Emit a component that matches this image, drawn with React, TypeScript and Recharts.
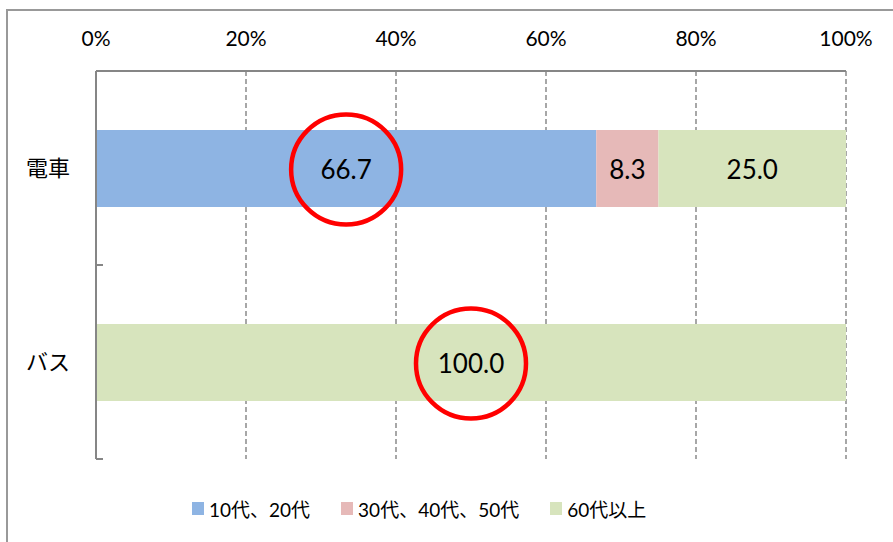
import React from 'react';
import { BarChart, Bar, XAxis, YAxis, CartesianGrid, Legend, LabelList, usePlotArea } from 'recharts';

const categories = ['電車', 'バス'];
const seriesNames = ['10代、20代', '30代、40代、50代', '60代以上'];
const youngValues = [66.7, 0];
const middleValues = [8.3, 0];
const seniorValues = [25.0, 100.0];
const youngCircled = [true, false];
const middleCircled = [false, false];
const seniorCircled = [false, true];
const xTicks = [0, 20, 40, 60, 80, 100];
const colors = ['#8EB4E3', '#E6B9B8', '#D7E4BD'];

const data = categories.map((c, i) => ({
  category: c,
  young: youngValues[i],
  middle: middleValues[i],
  senior: seniorValues[i],
}));

const FONT = "Lato, 'Noto Sans CJK JP', sans-serif";
const AXIS_COLOR = '#868686';

const makeLabel = (circled: boolean[]) => (props: any) => {
  const { x, y, width, height, value, index } = props;
  if (!value) return null;
  const cx = Number(x) + Number(width) / 2;
  const cy = Number(y) + Number(height) / 2;
  return (
    <g>
      <text
        x={cx}
        y={cy}
        textAnchor="middle"
        dominantBaseline="central"
        fontSize={26}
        fontFamily={FONT}
        fill="#000"
      >
        {Number(value).toFixed(1)}
      </text>
      {circled[index] && (
        <circle cx={cx} cy={cy + 1} r={55} fill="none" stroke="#FF0000" strokeWidth={4.5} />
      )}
    </g>
  );
};

// Category boundary tick marks on the inner side of the category axis (Excel style)
const CategoryBoundaryTicks = () => {
  const area = usePlotArea();
  if (!area) return null;
  const n = categories.length;
  const marks = [];
  for (let i = 0; i <= n; i++) {
    const y = area.y + (area.height * i) / n;
    marks.push(
      <line key={i} x1={area.x} y1={y} x2={area.x + 7} y2={y} stroke={AXIS_COLOR} strokeWidth={2} />
    );
  }
  return <g>{marks}</g>;
};

const renderLegend = () => (
  <div
    style={{
      height: 64,
      boxSizing: 'border-box',
      paddingTop: 35,
      paddingLeft: 192,
      display: 'flex',
      alignItems: 'center',
      fontFamily: FONT,
      fontSize: 19,
      color: '#000',
    }}
  >
    {seriesNames.map((name, i) => (
      <div key={name} style={{ display: 'flex', alignItems: 'center', height: 30, marginRight: 31 }}>
        <span style={{ display: 'inline-block', width: 12, height: 13, background: colors[i], marginRight: 5 }} />
        <span style={{ whiteSpace: 'nowrap' }}>{name}</span>
      </div>
    ))}
  </div>
);

export default function App() {
  return (
    <div style={{ position: 'absolute', left: 0, top: 0, width: 893, height: 542, overflow: 'hidden', background: '#fff' }}>
      <div
        style={{
          position: 'absolute',
          left: 6,
          top: 9,
          width: 1000,
          height: 1000,
          borderLeft: '2px solid #999',
          borderTop: '2px solid #999',
        }}
      />
      <div style={{ position: 'absolute', left: 0, top: 0 }}>
        <BarChart
          width={893}
          height={542}
          data={data}
          layout="vertical"
          margin={{ top: 31, right: 47, bottom: 19, left: 0 }}
          barSize={77}
        >
          <CartesianGrid
            horizontal={false}
            vertical={true}
            stroke="#8a8a8a"
            strokeWidth={1.5}
            strokeDasharray="5 3"
          />
          <XAxis
            type="number"
            orientation="top"
            domain={[0, 100]}
            ticks={xTicks}
            allowDataOverflow
            height={40}
            tickFormatter={(v: number) => `${v}%`}
            tickLine={false}
            tickSize={0}
            tickMargin={25}
            axisLine={{ stroke: AXIS_COLOR, strokeWidth: 2 }}
            tick={{ fontSize: 21, fontFamily: FONT, fill: '#000' }}
          />
          <YAxis
            type="category"
            dataKey="category"
            width={96}
            tickLine={false}
            tickSize={0}
            tickMargin={26}
            axisLine={{ stroke: AXIS_COLOR, strokeWidth: 2 }}
            tick={{ fontSize: 22, fontFamily: "'Noto Sans CJK JP', sans-serif", fill: '#000' }}
          />
          <Legend verticalAlign="bottom" content={renderLegend} wrapperStyle={{ left: 0, width: 893 }} />
          <Bar dataKey="young" name={seriesNames[0]} stackId="s" fill={colors[0]} isAnimationActive={false}>
            <LabelList dataKey="young" content={makeLabel(youngCircled)} />
          </Bar>
          <Bar dataKey="middle" name={seriesNames[1]} stackId="s" fill={colors[1]} isAnimationActive={false}>
            <LabelList dataKey="middle" content={makeLabel(middleCircled)} />
          </Bar>
          <Bar dataKey="senior" name={seriesNames[2]} stackId="s" fill={colors[2]} isAnimationActive={false}>
            <LabelList dataKey="senior" content={makeLabel(seniorCircled)} />
          </Bar>
          <CategoryBoundaryTicks />
        </BarChart>
      </div>
    </div>
  );
}
